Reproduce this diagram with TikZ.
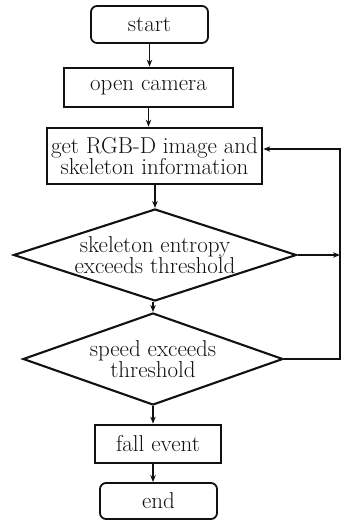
\documentclass[tikz,border=0pt]{standalone}
\usepackage{tikz}
\usetikzlibrary{arrows.meta, shapes.geometric}
\definecolor{Ink}{HTML}{111111}

\begin{document}
\begin{tikzpicture}[x=1pt, y=-1pt,
    every node/.style={font=\fontsize{23}{21.5}\selectfont, text=Ink, align=center},
    procbox/.style={draw=Ink, line width=2.7pt, inner sep=0pt},
    termbox/.style={draw=Ink, line width=1.8pt, rounded corners=6pt, inner sep=0pt},
    testbox/.style={diamond, draw=Ink, line width=2.1pt, inner sep=0pt},
    flow/.style={draw=Ink, line width=1.6pt, -{Stealth[length=7pt, width=5.5pt]}}]
  \useasboundingbox (0,0) rectangle (342,525);
  % boxes, top to bottom
  \node[termbox, minimum width=117pt, minimum height=37pt] (start) at (149.5,24.5) {start};
  \node[procbox, minimum width=169pt, minimum height=39pt] (open) at (148.5,87.5) {open camera};
  \node[procbox, minimum width=215pt, minimum height=56pt] (rgb) at (154.5,156) {get RGB-D image and\\skeleton information};
  \node[testbox, minimum width=283pt, minimum height=92pt,
        label={[align=center]center:skeleton entropy\\exceeds threshold}] (entropy) at (155,255) {};
  \node[testbox, minimum width=260pt, minimum height=92pt,
        label={[align=center]center:speed exceeds\\threshold}] (speed) at (153,359) {};
  \node[procbox, minimum width=126pt, minimum height=38pt] (fall) at (158,444) {fall event};
  \node[termbox, minimum width=117pt, minimum height=36pt] (stop) at (158.5,501) {end};
  \coordinate (loop) at (340,149);
  % main flow
  \draw[flow] (start.south) -- (start.south |- open.north);
  \draw[flow] (open.south) -- (open.south |- rgb.north);
  \draw[flow] (entropy.north |- rgb.south) -- (entropy.north);
  \draw[flow] (speed.north |- entropy.south) -- (speed.north);
  \draw[flow] (speed.south) -- (speed.south |- fall.north);
  \draw[flow] (speed.south |- fall.south) -- (speed.south |- stop.north);
  % back loop
  \draw[flow] (entropy.east) -- (entropy.east -| loop);
  \draw[flow] (speed.east) -| (loop) -- (loop -| rgb.east);
\end{tikzpicture}
\end{document}
